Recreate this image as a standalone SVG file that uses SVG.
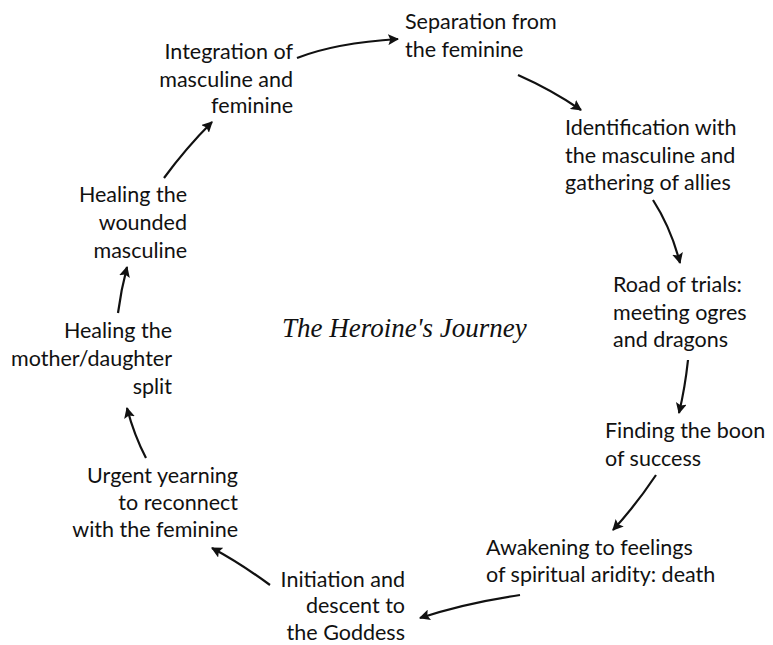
<svg xmlns="http://www.w3.org/2000/svg" width="773" height="645" viewBox="0 0 773 645">
  <style>
    .lbl { font-family: Lato, "Open Sans", "Liberation Sans", sans-serif; font-size: 21.5px; fill: #111; }
    .end { text-anchor: end; }
    .title { font-family: "Liberation Serif", serif; font-style: italic; font-size: 27px; fill: #111; }
    .conn { fill: none; stroke: #111; stroke-width: 2.2; marker-end: url(#head); }
  </style>
  <defs>
    <marker id="head" viewBox="0 0 10 10" refX="9" refY="5" markerWidth="5" markerHeight="5" orient="auto" markerUnits="strokeWidth">
      <path d="M0,0 L10,5 L0,10 L2,5 Z" fill="#111"/>
    </marker>
  </defs>
  <rect width="773" height="645" fill="#fff"/>

  <text class="title" x="282" y="337">The Heroine's Journey</text>

  <g id="n1"><text class="lbl" x="405" y="29">Separation from</text><text class="lbl" x="405" y="57">the feminine</text></g>
  <g id="n2"><text class="lbl" x="565" y="135">Identification with</text><text class="lbl" x="565" y="163">the masculine and</text><text class="lbl" x="565" y="190">gathering of allies</text></g>
  <g id="n3"><text class="lbl" x="613" y="292">Road of trials:</text><text class="lbl" x="613" y="320">meeting ogres</text><text class="lbl" x="613" y="347">and dragons</text></g>
  <g id="n4"><text class="lbl" x="605" y="438">Finding the boon</text><text class="lbl" x="605" y="466">of success</text></g>
  <g id="n5"><text class="lbl" x="486" y="555">Awakening to feelings</text><text class="lbl" x="486" y="582">of spiritual aridity: death</text></g>
  <g id="n6"><text class="lbl end" x="405" y="587">Initiation and</text><text class="lbl end" x="405" y="613">descent to</text><text class="lbl end" x="405" y="640">the Goddess</text></g>
  <g id="n7"><text class="lbl end" x="238" y="483">Urgent yearning</text><text class="lbl end" x="238" y="510">to reconnect</text><text class="lbl end" x="238" y="537">with the feminine</text></g>
  <g id="n8"><text class="lbl end" x="172" y="338">Healing the</text><text class="lbl end" x="172" y="366">mother/daughter</text><text class="lbl end" x="172" y="394">split</text></g>
  <g id="n9"><text class="lbl end" x="187" y="202">Healing the</text><text class="lbl end" x="187" y="230">wounded</text><text class="lbl end" x="187" y="258">masculine</text></g>
  <g id="n10"><text class="lbl end" x="293" y="59">Integration of</text><text class="lbl end" x="293" y="87">masculine and</text><text class="lbl end" x="293" y="113">feminine</text></g>

  <g id="connectors">
    <path class="conn" d="M297,58 Q335,43 398,39"/>
    <path class="conn" d="M518,75 Q552,90 581,110"/>
    <path class="conn" d="M653,200 Q671,228 680,263"/>
    <path class="conn" d="M688,360 Q685,388 679,413"/>
    <path class="conn" d="M656,475 Q636,505 613,530"/>
    <path class="conn" d="M520,595 Q465,603 420,618"/>
    <path class="conn" d="M270,585 Q240,563 212,548"/>
    <path class="conn" d="M146,458 Q134,435 127,408"/>
    <path class="conn" d="M118,313 Q121,290 127,267"/>
    <path class="conn" d="M164,178 Q186,148 212,122"/>
  </g>
</svg>
